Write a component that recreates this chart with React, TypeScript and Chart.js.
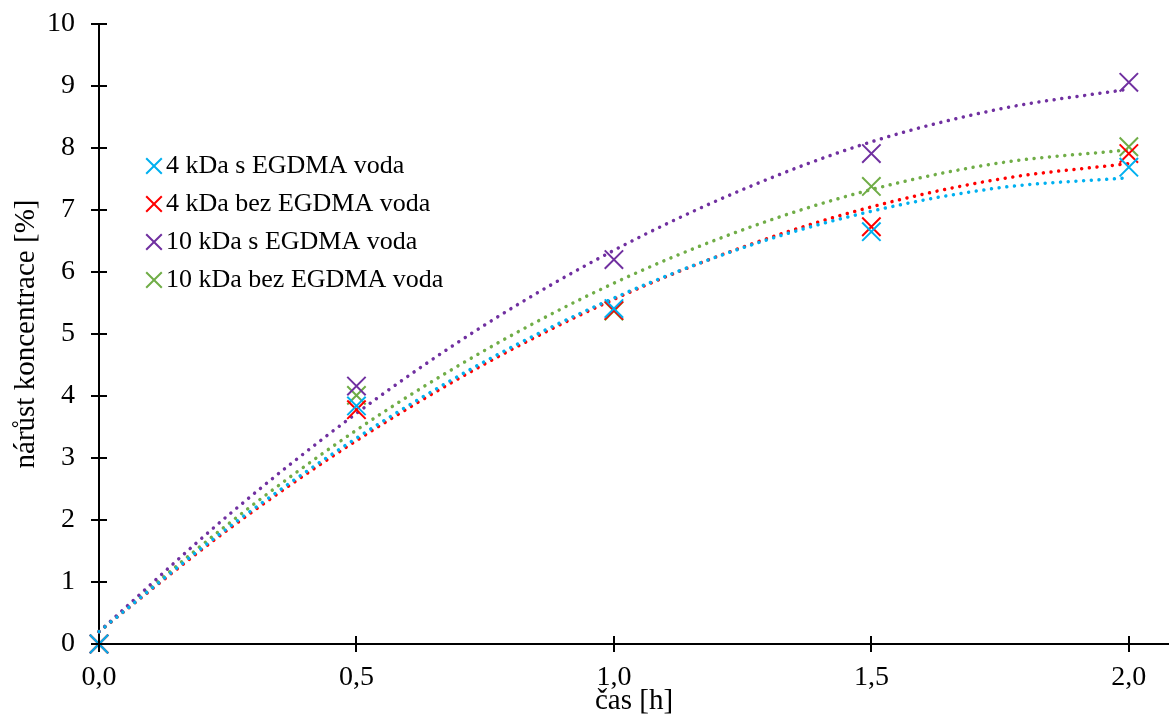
import React, { useEffect, useRef } from 'react';
import { Chart, registerables } from 'chart.js';

Chart.register(...registerables);

const FONT = '"Liberation Serif", "Times New Roman", serif';

// measured data points (time in hours, concentration increase in %)
const timeH = [0, 0.5, 1, 1.5, 2];
const s4kDaEgdma = [0, 3.84, 5.41, 6.65, 7.69];
const s4kDaBez = [0, 3.78, 5.38, 6.73, 7.91];
const s10kDaEgdma = [0, 4.16, 6.2, 7.91, 9.06];
const s10kDaBez = [0, 4.01, 5.37, 7.38, 8.02];

// trend lines
const trendX = [0, 0.25, 0.5, 0.75, 1, 1.25, 1.5, 1.75, 2];
const trend4Egdma = [0.2, 1.87, 3.32, 4.56, 5.58, 6.39, 6.98, 7.36, 7.52];
const trend4Bez = [0.2, 1.84, 3.28, 4.52, 5.56, 6.4, 7.05, 7.5, 7.75];
const trend10Egdma = [0.2, 2.07, 3.72, 5.15, 6.35, 7.33, 8.1, 8.63, 8.95];
const trend10Bez = [0.2, 1.93, 3.45, 4.74, 5.82, 6.68, 7.33, 7.76, 7.97];

const seriesLabels = [
  '4 kDa s EGDMA voda',
  '4 kDa bez EGDMA voda',
  '10 kDa s EGDMA voda',
  '10 kDa bez EGDMA voda',
];
const seriesColors = ['#00B0F0', '#FF0000', '#7030A0', '#70AD47'];
const seriesValues = [s4kDaEgdma, s4kDaBez, s10kDaEgdma, s10kDaBez];
const trendValues = [trend4Egdma, trend4Bez, trend10Egdma, trend10Bez];

const xTicks = [0, 0.5, 1, 1.5, 2];
const yTicks = [0, 1, 2, 3, 4, 5, 6, 7, 8, 9, 10];

const crossTicksPlugin = {
  id: 'crossTicks',
  afterDraw(chart: any) {
    const ctx = chart.ctx;
    const xs = chart.scales.x;
    const ys = chart.scales.y;
    const x0 = xs.getPixelForValue(0);
    const y0 = ys.getPixelForValue(0);
    ctx.save();
    ctx.strokeStyle = '#000';
    ctx.lineWidth = 2;
    ctx.beginPath();
    yTicks.forEach((v) => {
      const py = Math.round(ys.getPixelForValue(v));
      ctx.moveTo(x0 - 8, py);
      ctx.lineTo(x0 + 8, py);
    });
    xTicks.forEach((v) => {
      const px = Math.round(xs.getPixelForValue(v));
      ctx.moveTo(px, y0 - 8);
      ctx.lineTo(px, y0 + 8);
    });
    ctx.stroke();
    ctx.restore();
  },
};

const innerLegendPlugin = {
  id: 'innerLegend',
  afterDraw(chart: any) {
    const ctx = chart.ctx;
    const left = chart.chartArea.left;
    const top = chart.chartArea.top;
    ctx.save();
    ctx.font = `26px ${FONT}`;
    ctx.textBaseline = 'middle';
    ctx.textAlign = 'left';
    seriesLabels.forEach((label, i) => {
      const cy = top + 142 + i * 38;
      const cx = left + 55;
      const r = 7.8;
      ctx.strokeStyle = seriesColors[i];
      ctx.lineWidth = 2;
      ctx.beginPath();
      ctx.moveTo(cx - r, cy - r);
      ctx.lineTo(cx + r, cy + r);
      ctx.moveTo(cx - r, cy + r);
      ctx.lineTo(cx + r, cy - r);
      ctx.stroke();
      ctx.fillStyle = '#000';
      ctx.fillText(label, left + 67, cy);
    });
    ctx.restore();
  },
};

export default function App() {
  const ref = useRef<HTMLCanvasElement>(null);

  useEffect(() => {
    const canvas = ref.current!;
    const scatterSets = seriesValues.map((vals, i) => ({
      label: seriesLabels[i],
      data: timeH.map((t, j) => ({ x: t, y: vals[j] })),
      showLine: false,
      pointStyle: 'crossRot',
      pointRadius: 13,
      pointBorderWidth: 2,
      borderColor: seriesColors[i],
      backgroundColor: seriesColors[i],
      clip: false,
    }));
    const trendSets = trendValues.map((vals, i) => ({
      label: seriesLabels[i] + ' trend',
      data: trendX.map((t, j) => ({ x: t, y: vals[j] })),
      showLine: true,
      pointRadius: 0,
      borderColor: seriesColors[i],
      borderWidth: 3.5,
      borderDash: [0.01, 7.7],
      borderCapStyle: 'round',
      cubicInterpolationMode: 'monotone',
      fill: false,
      clip: false,
    }));

    const chart = new Chart(canvas, {
      type: 'scatter',
      data: { datasets: [...scatterSets, ...trendSets] as any },
      options: {
        animation: false,
        responsive: false,
        maintainAspectRatio: false,
        devicePixelRatio: 1,
        layout: { autoPadding: false, padding: { top: 24, right: 0, bottom: 0, left: 0 } },
        plugins: {
          legend: { display: false },
          tooltip: { enabled: false },
        },
        scales: {
          x: {
            type: 'linear',
            min: 0,
            max: 2.078,
            afterBuildTicks: (s: any) => {
              s.ticks = xTicks.map((v) => ({ value: v }));
            },
            afterFit: (s: any) => {
              s.height = 71;
              s.paddingLeft = 0;
              s.paddingRight = 0;
            },
            ticks: {
              autoSkip: false,
              maxRotation: 0,
              padding: 17,
              color: '#000',
              font: { family: FONT, size: 28 },
              callback: (v: any) => Number(v).toFixed(1).replace('.', ','),
            },
            grid: { display: false, drawTicks: false },
            border: { display: true, color: '#000', width: 2 },
            title: {
              display: true,
              text: 'čas [h]',
              color: '#000',
              font: { family: FONT, size: 29 },
              padding: { top: 0, bottom: -4 },
            },
          },
          y: {
            type: 'linear',
            min: 0,
            max: 10,
            afterBuildTicks: (s: any) => {
              s.ticks = yTicks.map((v) => ({ value: v }));
            },
            afterFit: (s: any) => {
              s.width = 99;
              s.paddingTop = 0;
              s.paddingBottom = 0;
            },
            ticks: {
              padding: 24,
              color: '#000',
              font: { family: FONT, size: 28 },
              callback: (v: any) => String(v),
            },
            grid: { display: false, drawTicks: false },
            border: { display: true, color: '#000', width: 2 },
            title: {
              display: true,
              text: 'nárůst koncentrace [%]',
              color: '#000',
              font: { family: FONT, size: 29 },
              padding: { top: 9, bottom: 0 },
            },
          },
        },
      } as any,
      plugins: [crossTicksPlugin, innerLegendPlugin],
    });

    return () => chart.destroy();
  }, []);

  return (
    <div
      style={{
        position: 'fixed',
        left: 0,
        top: 0,
        width: 1169,
        height: 715,
        background: '#fff',
        overflow: 'hidden',
      }}
    >
      <canvas ref={ref} width={1169} height={715} style={{ display: 'block' }} />
    </div>
  );
}
